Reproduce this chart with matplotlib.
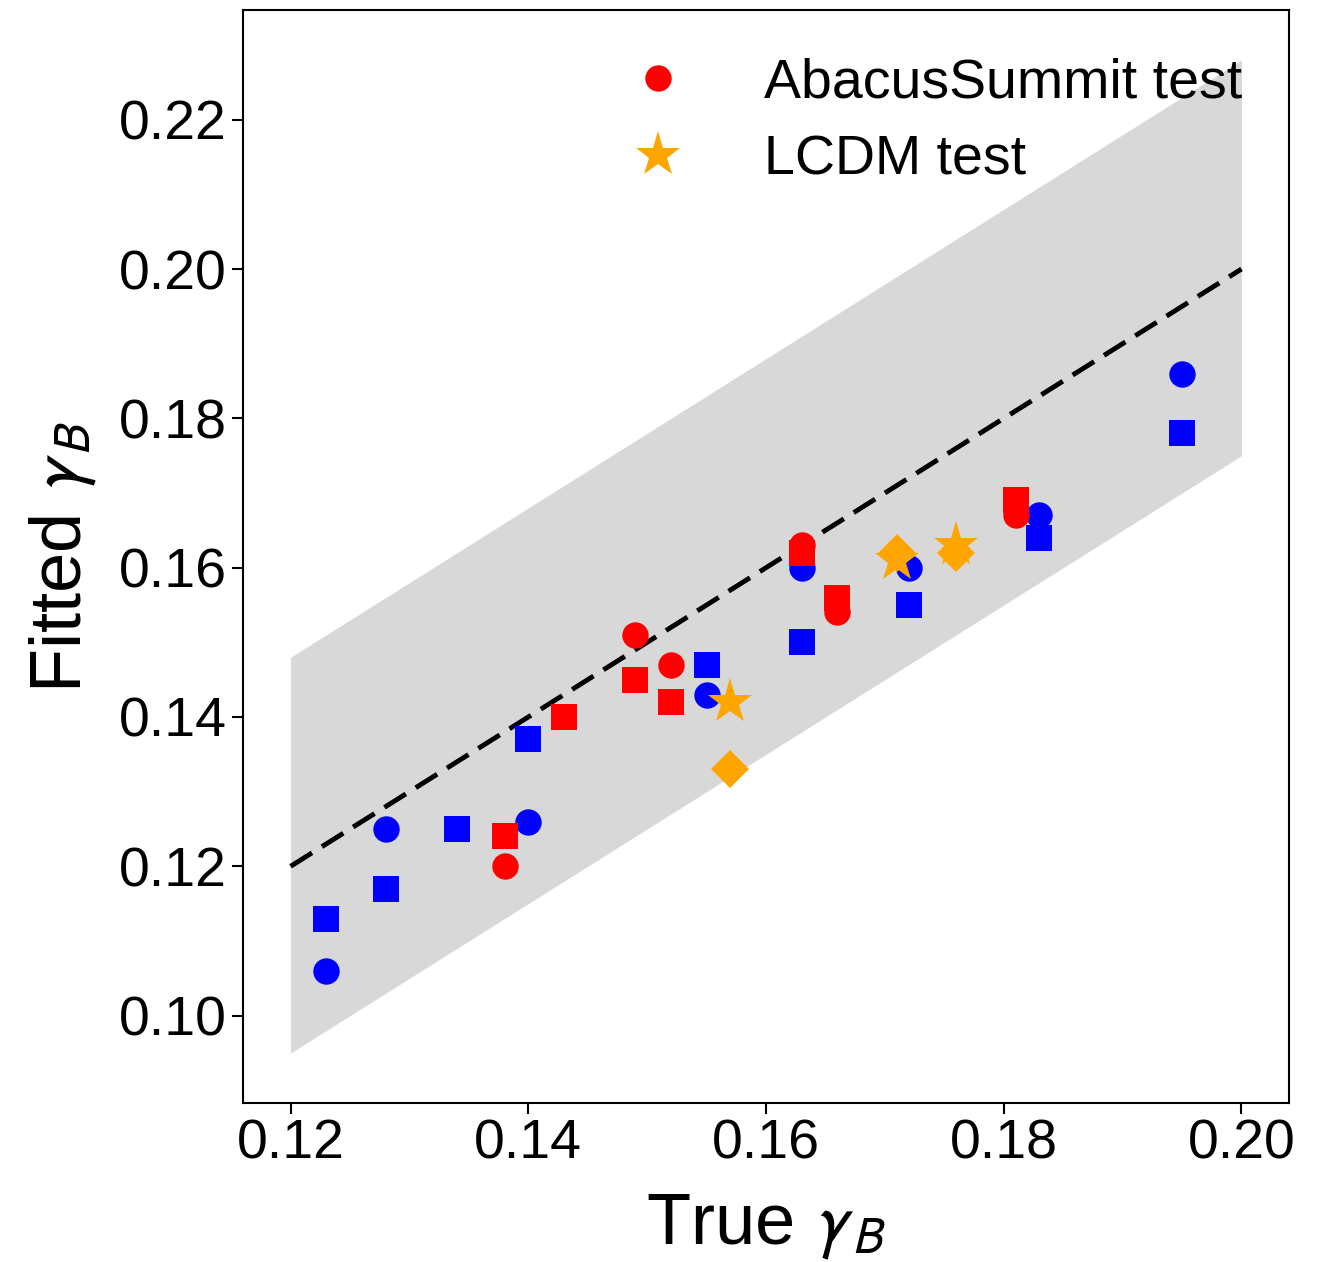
import numpy as np
import matplotlib
matplotlib.use("Agg")
import matplotlib.pyplot as plt

plt.rcParams['font.family'] = ['Liberation Sans', 'DejaVu Sans']
plt.rcParams['mathtext.fontset'] = 'stixsans'

# AbacusSummit test, two fits (circles / squares)
blue_circ_x = [0.123, 0.128, 0.140, 0.155, 0.163, 0.172, 0.183, 0.195]
blue_circ_y = [0.106, 0.125, 0.126, 0.143, 0.160, 0.160, 0.167, 0.186]
blue_sq_x = [0.123, 0.128, 0.134, 0.140, 0.155, 0.163, 0.172, 0.183, 0.195]
blue_sq_y = [0.113, 0.117, 0.125, 0.137, 0.147, 0.150, 0.155, 0.164, 0.178]
red_circ_x = [0.138, 0.149, 0.152, 0.163, 0.166, 0.181]
red_circ_y = [0.120, 0.151, 0.147, 0.163, 0.154, 0.167]
red_sq_x = [0.138, 0.143, 0.149, 0.152, 0.163, 0.166, 0.181]
red_sq_y = [0.124, 0.140, 0.145, 0.142, 0.162, 0.156, 0.169]
# LCDM test
lcdm_star_x = [0.157, 0.171, 0.176]
lcdm_star_y = [0.142, 0.161, 0.163]
lcdm_diam_x = [0.157, 0.171, 0.176]
lcdm_diam_y = [0.133, 0.162, 0.162]

fig = plt.figure(figsize=(13.23, 12.62), dpi=100)
ax = fig.add_axes([0.1837, 0.126, 0.7906, 0.8661])

xx = np.array([0.12, 0.20])
ax.fill_between(xx, xx - 0.025, xx + 0.028, color='gray', alpha=0.3, lw=0)
ax.plot(xx, xx, color='k', ls='--', lw=3.5, dashes=(5.2, 2.4))

ms = 19
ax.plot(blue_circ_x, blue_circ_y, 'o', color='blue', ms=ms, mew=0)
ax.plot(blue_sq_x, blue_sq_y, 's', color='blue', ms=ms, mew=0)
h1, = ax.plot(red_circ_x, red_circ_y, 'o', color='red', ms=ms, mew=0)
ax.plot(red_sq_x, red_sq_y, 's', color='red', ms=ms, mew=0)
ax.plot(lcdm_diam_x, lcdm_diam_y, 'D', color='orange', ms=ms, mew=0)
h2, = ax.plot(lcdm_star_x, lcdm_star_y, '*', color='orange', ms=34, mew=0)

ax.set_xlim(0.116, 0.204)
ax.set_ylim(0.0883, 0.2347)
ax.set_xticks([0.12, 0.14, 0.16, 0.18, 0.20])
ax.set_yticks([0.10, 0.12, 0.14, 0.16, 0.18, 0.20, 0.22])
ax.tick_params(labelsize=40, length=8, width=1.5)
for s in ax.spines.values():
    s.set_linewidth(1.5)

ax.set_xlabel(r'True $\gamma_B$', fontsize=52, labelpad=16)
ax.set_ylabel(r'Fitted $\gamma_B$', fontsize=52, labelpad=14)

ax.legend([h1, h2], ['AbacusSummit test', 'LCDM test'], loc='upper right',
          frameon=False, fontsize=40, handletextpad=0.9, labelspacing=0.45,
          borderaxespad=0.45, handlelength=2.0)

fig.savefig('out.png', dpi=100)
